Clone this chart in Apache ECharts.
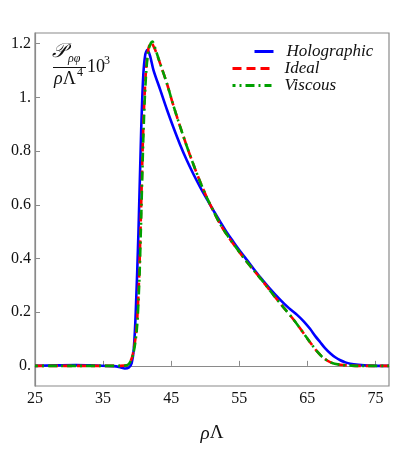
<!DOCTYPE html>
<html>
<head>
<meta charset="utf-8">
<script src="https://cdn.jsdelivr.net/npm/echarts@6/dist/echarts.min.js"></script>
<style>
html,body{margin:0;padding:0;background:#fff;}
#chart{width:399px;height:450px;}
</style>
</head>
<body>
<div id="chart"></div>
<script>
// ---- data ----
const seriesNames = ['Holographic', 'Ideal', 'Viscous'];
const xTicks = [25, 35, 45, 55, 65, 75];
const yTicks = [0, 0.2, 0.4, 0.6, 0.8, 1.0, 1.2];
const yTickLabels = ['0.', '0.2', '0.4', '0.6', '0.8', '1.', '1.2'];

const holoData = [
  [25,0],[28,0.002],[31,0.003],[34,0.001],[36.5,-0.001],[37.5,-0.005],[38.2,-0.010],[38.8,-0.006],
  [39.2,0.01],[39.5,0.06],[39.8,0.2],[40.2,0.5],[40.6,0.88],[40.9,1.08],[41.2,1.16],[41.5,1.177],
  [41.9,1.155],[42.4,1.102],[43.4,1.028],[44.4,0.953],[45.35,0.887],[46.3,0.825],[47.3,0.766],
  [48.3,0.713],[49.3,0.664],[50.3,0.619],[51.3,0.575],[52.2,0.537],[53.2,0.496],[54.2,0.46],
  [55.2,0.425],[56.2,0.392],[57.1,0.362],[58.1,0.33],[59.5,0.288],[61,0.247],[62.3,0.215],
  [63.5,0.19],[64.5,0.165],[65.4,0.138],[66.2,0.11],[66.9,0.088],[67.6,0.066],[68.4,0.046],
  [69.1,0.032],[69.85,0.021],[70.6,0.013],[71.3,0.008],[72.5,0.004],[74,0.001],[77,0]
];
const idealData = [
  [25,0],[30,0],[35,0],[37.5,0],[38.5,0.002],[39.0,0.015],[39.4,0.047],[39.9,0.134],[40.25,0.3],
  [40.5,0.506],[40.9,0.88],[41.25,1.08],[41.65,1.18],[42.05,1.205],[42.6,1.18],[43.4,1.125],
  [44.4,1.05],[45.35,0.968],[46.3,0.893],[47.3,0.818],[48.3,0.748],[49.3,0.683],[50.3,0.624],
  [51.3,0.572],[52.2,0.528],[53.2,0.488],[54.2,0.452],[55.2,0.418],[56.1,0.388],[57.1,0.357],
  [58.3,0.32],[59.2,0.291],[60.05,0.263],[61.5,0.218],[63.0,0.172],[64.3,0.127],[65.4,0.088],
  [66.5,0.052],[67.4,0.029],[68.5,0.012],[69.85,0.004],[71.5,0.001],[73,0],[77,0]
];
const viscousData = [
  [25,0],[30,0],[35,0],[37.5,0],[38.5,0.002],[39.0,0.015],[39.46,0.047],[39.95,0.134],[40.3,0.3],
  [40.55,0.506],[40.95,0.88],[41.3,1.08],[41.7,1.18],[42.25,1.208],[42.75,1.175],[43.4,1.125],
  [44.4,1.05],[45.35,0.968],[46.3,0.893],[47.3,0.818],[48.3,0.748],[49.3,0.683],[50.3,0.624],
  [51.3,0.572],[52.2,0.528],[53.2,0.488],[54.2,0.452],[55.2,0.418],[56.1,0.388],[57.1,0.357],
  [58.3,0.32],[59.2,0.291],[60.05,0.263],[61.5,0.218],[63.0,0.172],[64.3,0.127],[65.4,0.088],
  [66.5,0.052],[67.4,0.029],[68.5,0.012],[69.85,0.004],[71.5,0.001],[73,0],[77,0]
];

// ---- styling ----
const SERIF = '"Liberation Serif", "DejaVu Serif", serif';
const FRAME = '#8a8a8a';
const chart = echarts.init(document.getElementById('chart'), null, {renderer: 'canvas'});

function legendFor(name, left, top, width) {
  return {
    data: [name], left: left, top: top, itemWidth: width, itemHeight: 12,
    padding: 0, itemGap: 0,
    itemStyle: {opacity: 0},
    lineStyle: {width: 3},
    textStyle: {fontFamily: SERIF, fontStyle: 'italic', fontSize: 17, color: '#111', padding: [0,0,0,8]}
  };
}

const option = {
  animation: false,
  backgroundColor: '#fff',
  grid: {left: 35, right: 10, top: 33, bottom: 64, show: true, borderColor: FRAME, borderWidth: 1.2},
  legend: [
    legendFor(seriesNames[0], 253, 43, 19),
    legendFor(seriesNames[1], 231, 60, 39),
    legendFor(seriesNames[2], 231, 77, 39)
  ],
  xAxis: {
    type: 'value', min: 25, max: 77,
    name: '{i|ρ}Λ', nameLocation: 'middle', nameGap: 38,
    nameTextStyle: {fontFamily: SERIF, fontSize: 19, color: '#111',
      rich: {i: {fontFamily: SERIF, fontStyle: 'italic', fontSize: 19, color: '#111'}}},
    axisLine: {show: true, lineStyle: {color: FRAME, width: 1.2}},
    axisTick: {show: true, inside: true, length: 5, customValues: xTicks, lineStyle: {color: FRAME}},
    axisLabel: {customValues: xTicks, fontFamily: SERIF, fontSize: 16, color: '#111', margin: 5},
    splitLine: {show: false}
  },
  yAxis: {
    type: 'value', min: -0.075, max: 1.24,
    axisLine: {show: true, lineStyle: {color: FRAME, width: 1.2}},
    axisTick: {show: true, inside: true, length: 5, customValues: yTicks, lineStyle: {color: FRAME}},
    axisLabel: {
      customValues: yTicks, fontFamily: SERIF, fontSize: 16, color: '#111', margin: 4,
      formatter: function (v) {
        for (let i = 0; i < yTicks.length; i++) if (Math.abs(yTicks[i] - v) < 1e-6) return yTickLabels[i];
        return '';
      }
    },
    splitLine: {show: false}
  },
  series: [
    {name: seriesNames[0], type: 'line', data: holoData, symbol: 'none', smooth: 0.3,
     lineStyle: {color: '#0000ff', width: 2.6}, itemStyle: {color: '#0000ff'}, z: 2},
    {name: seriesNames[1], type: 'line', data: idealData, symbol: 'none', smooth: 0.3,
     lineStyle: {color: '#ff0000', width: 2.6, type: [9, 5]}, itemStyle: {color: '#ff0000'}, z: 3},
    {name: seriesNames[2], type: 'line', data: viscousData, symbol: 'none', smooth: 0.3,
     lineStyle: {color: '#00a000', width: 2.6, type: [9, 4, 2, 4], dashOffset: 6}, itemStyle: {color: '#00a000'}, z: 4}
  ],
  graphic: [
    {type: 'text', left: 52, top: 42, style: {text: '𝒫', font: 'italic 20px ' + SERIF, fill: '#111'}},
    {type: 'text', left: 68, top: 53, style: {text: 'ρφ', font: 'italic 12px ' + SERIF, fill: '#111'}},
    {type: 'line', shape: {x1: 53, y1: 67.5, x2: 86, y2: 67.5}, style: {stroke: '#111', lineWidth: 1}},
    {type: 'text', left: 54, top: 70, style: {text: '{i|ρ}Λ', font: '18px ' + SERIF, fill: '#111',
      rich: {i: {font: 'italic 18px ' + SERIF, fill: '#111'}}}},
    {type: 'text', left: 77, top: 67, style: {text: '4', font: '12px ' + SERIF, fill: '#111'}},
    {type: 'text', left: 87, top: 58, style: {text: '10', font: '18px ' + SERIF, fill: '#111'}},
    {type: 'text', left: 104, top: 55, style: {text: '3', font: '12px ' + SERIF, fill: '#111'}}
  ]
};
chart.setOption(option);
</script>
</body>
</html>
